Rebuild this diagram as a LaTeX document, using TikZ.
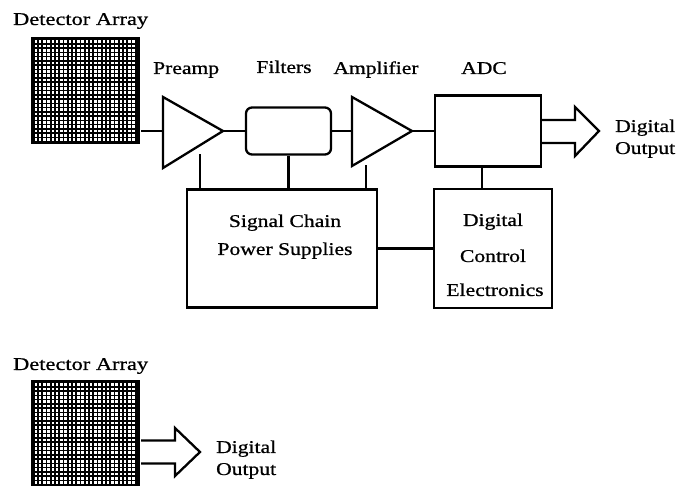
\documentclass[tikz,border=0pt]{standalone}
\usepackage{graphicx}
\usepackage{fontspec}
\setmainfont[FakeStretch=1.2,FakeBold=0.8]{Liberation Serif}
\newcommand\mydetgrid[4]{% x0, y0, columns-1, rows-1
  \foreach \i in {0,...,#3}{\foreach \j in {0,...,#4}{%
    \fill[white] ({#1+\i*4.25},{#2+\j*4.25}) rectangle ++(2.6,2.6);}}}
\newcommand\detlabeltext{\resizebox{135pt}{\height}{Detector Array}}
\begin{document}
\begin{tikzpicture}[x=1pt,y=-1pt,line width=2.3pt,line join=miter,
  lbl/.style={font=\fontsize{18}{20}\selectfont,inner sep=0pt},
  box/.style={draw,fill=white,inner sep=0pt},
  detbox/.style={fill=black,inner sep=0pt,minimum width=109pt},
  blockarrow/.style={draw,fill=white,line width=2.3pt}]
\useasboundingbox (0,0) rectangle (678,486);

% ---------- top diagram ----------
\node[lbl,anchor=base west] (t-det) at (12,25) {\detlabeltext};
\node[detbox,minimum height=107pt] (det1) at (85.5,90.5) {};
\mydetgrid{34.5}{40.5}{23}{23}

\node[lbl,anchor=base west] (t-pre) at (152,74) {Preamp};
\node[lbl,anchor=base] (t-fil) at (284,73) {Filters};
\node[lbl,anchor=base] (t-amp) at (376,74) {Amplifier};
\node[lbl,anchor=base] (t-adc) at (484,74) {ADC};

% preamp triangle
\coordinate (pre-in) at (163,131);
\coordinate (pre-tip) at (223,131);
\draw (163,97) -- (pre-tip) -- (163,168) -- cycle;
% filters
\node[box,rounded corners=6pt,minimum width=85pt,minimum height=47pt] (fil) at (288.5,131) {};
% amplifier triangle
\coordinate (amp-in) at (352,131);
\coordinate (amp-tip) at (412,131);
\draw (352,97) -- (amp-tip) -- (352,166) -- cycle;
% ADC
\node[box,minimum width=106pt,minimum height=71pt] (adc) at (488,131) {};

% signal chain
\draw (det1.east |- pre-in) -- (pre-in);
\draw (pre-tip) -- (fil.west);
\draw (fil.east) -- (amp-in);
\draw (amp-tip) -- (adc.west);

% digital output arrow (top)
\draw[blockarrow] (adc.east |- 0,120) -- (575,120) -- (575,107) -- (599,131)
  -- (575,156) -- (575,143) -- (adc.east |- 0,143);
\node[lbl,anchor=base west] (t-dig1) at (614,132) {Digital};
\node[lbl,anchor=base west] (t-out1) at (614,154) {Output};

% power supplies and control
\node[box,minimum width=190pt,minimum height=118pt] (pwr) at (282,248.5) {};
\node[lbl,anchor=base] (t-sig) at (285,227) {Signal Chain};
\node[lbl,anchor=base] (t-psu) at (285,255) {Power Supplies};

\node[box,minimum width=118pt,minimum height=119pt] (dce) at (493,248.5) {};
\node[lbl,anchor=base] (t-dce1) at (493,226) {Digital};
\node[lbl,anchor=base] (t-dce2) at (493,262) {Control};
\node[lbl,anchor=base] (t-dce3) at (495,296) {Electronics};

\coordinate (pre-pw) at (200,154);
\coordinate (amp-pw) at (366,165);
\draw (pwr.north -| pre-pw) -- (pre-pw);
\draw (pwr.north -| fil.south) -- (fil.south);
\draw (pwr.north -| amp-pw) -- (amp-pw);
\draw (pwr.east) -- (dce.west);
\coordinate (adc-dce) at (482,0);
\draw (adc.south -| adc-dce) -- (dce.north -| adc-dce);

% ---------- bottom diagram ----------
\node[lbl,anchor=base west] (b-det) at (12,370) {\detlabeltext};
\begin{scope}
  \clip (0,0) rectangle (678,486);
  \node[detbox,minimum height=120pt] (det2) at (85.5,440) {};
  \mydetgrid{34.5}{383.5}{23}{26}
\end{scope}
\draw[blockarrow] (det2.east |- 0,440.5) -- (175,440.5) -- (175,428) -- (200,452)
  -- (175,476) -- (175,463.5) -- (det2.east |- 0,463.5);
\node[lbl,anchor=base west] (b-dig) at (215,453) {Digital};
\node[lbl,anchor=base west] (b-out) at (215,475) {Output};
\end{tikzpicture}
\end{document}
